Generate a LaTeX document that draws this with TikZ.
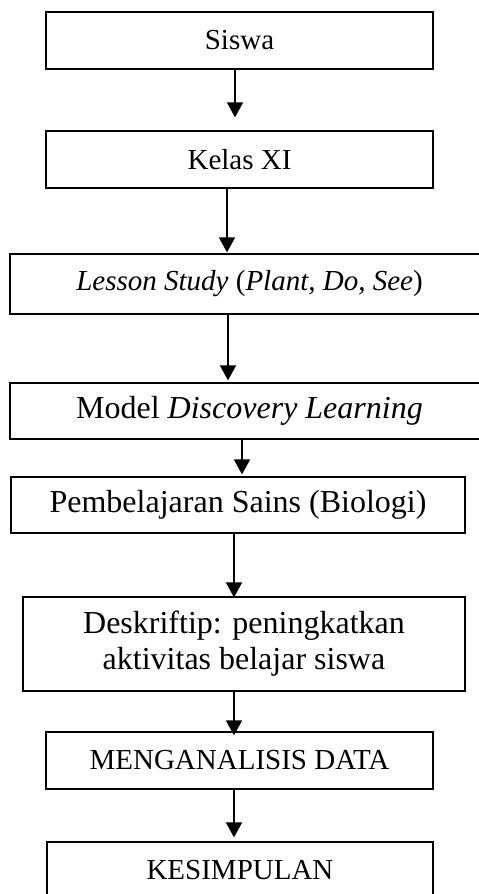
\documentclass[tikz,border=0pt]{standalone}
\usepackage{fontspec}
\setmainfont{Liberation Serif}
\usetikzlibrary{arrows.meta}
\tikzset{
  box/.style={draw=black, line width=1.3pt, inner sep=0pt, fill=white},
  small/.style={font=\fontsize{29}{34}\selectfont},
  big/.style={font=\fontsize{32}{36}\selectfont},
  arr/.style={line width=1.8pt, -{Triangle[length=15pt,width=16pt]}}
}
\begin{document}
\begin{tikzpicture}[x=1pt,y=-1pt]
\useasboundingbox (0,0) rectangle (479,894);
\clip (0,0) rectangle (479,894);
\fill[white] (0,0) rectangle (479,894);

\node[box, small, minimum width=387pt, minimum height=57pt] (b1) at (239.5,40.5) {Siswa};
\node[box, small, minimum width=387pt, minimum height=57pt] (b2) at (239.5,159.5) {Kelas XI};
\node[box, small, minimum width=479pt, minimum height=60pt] (b3) at (249.5,284) {\textit{Lesson Study} (\textit{Plant, Do, See})};
\node[box, big, minimum width=479pt, minimum height=56pt] (b4) at (249.5,411) {Model \textit{Discovery Learning}};
\node[box, big, minimum width=454pt, minimum height=56pt] (b5) at (238,505) {Pembelajaran Sains (Biologi)};
\node[box, big, minimum width=442pt, minimum height=94pt, align=center] (b6) at (244,644) {Deskriftip: peningkatkan\\aktivitas belajar siswa};
\node[box, small, minimum width=387pt, minimum height=57pt] (b7) at (239.5,760.5) {MENGANALISIS DATA};
\node[box, small, minimum width=386pt, minimum height=57pt] (b8) at (240,870.5) {KESIMPULAN};

\coordinate (x1) at (235,0);
\coordinate (x2) at (227,0);
\coordinate (x3) at (228,0);
\coordinate (x4) at (242,0);
\coordinate (x5) at (234,0);

\draw[arr, shorten >=13pt] (b1.south -| x1) -- (b2.north -| x1);
\draw[arr, shorten >=1pt] (b2.south -| x2) -- (b3.north -| x2);
\draw[arr, shorten >=2pt] (b3.south -| x3) -- (b4.north -| x3);
\draw[arr, shorten >=2pt] (b4.south -| x4) -- (b5.north -| x4);
\draw[arr, shorten >=-1pt] (b5.south -| x5) -- (b6.north -| x5);
\draw[arr, shorten >=-4pt] (b6.south -| x5) -- (b7.north -| x5);
\draw[arr, shorten >=4pt] (b7.south -| x5) -- (b8.north -| x5);
\end{tikzpicture}
\end{document}
